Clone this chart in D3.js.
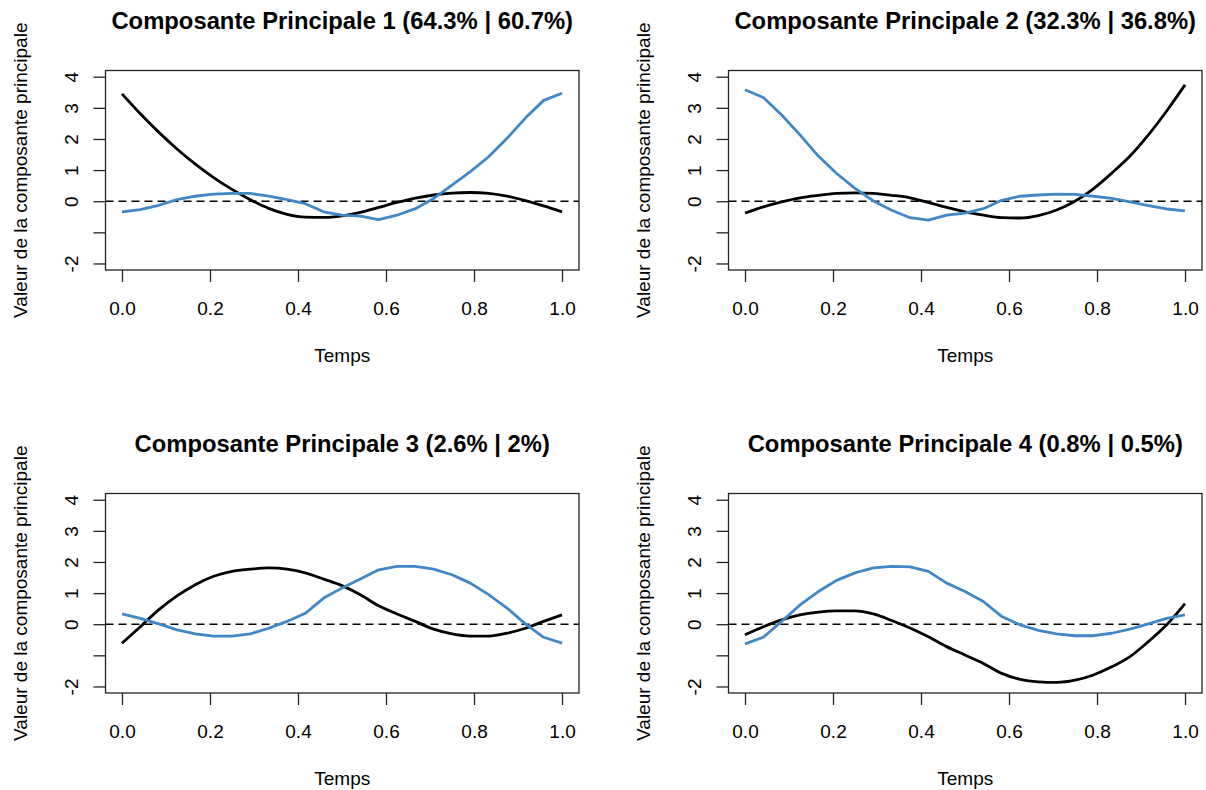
<!DOCTYPE html>
<html>
<head>
<meta charset="utf-8">
<script src="https://cdn.jsdelivr.net/npm/d3@7"></script>
<style>
  body { margin: 0; background: #fff; }
  svg text { font-family: "Liberation Sans", Arial, Helvetica, sans-serif; fill: #000; }
</style>
</head>
<body>
<div id="chart"></div>
<script>

// temps (25 points)
var temps = [0, 0.0417, 0.0833, 0.125, 0.1667, 0.2083, 0.25, 0.2917, 0.3333, 0.375, 0.4167, 0.4583, 0.5,
             0.5417, 0.5833, 0.625, 0.6667, 0.7083, 0.75, 0.7917, 0.8333, 0.875, 0.9167, 0.9583, 1]

var titres = [
  "Composante Principale 1 (64.3% | 60.7%)",
  "Composante Principale 2 (32.3% | 36.8%)",
  "Composante Principale 3 (2.6% | 2%)",
  "Composante Principale 4 (0.8% | 0.5%)"
]

// courbes noires
var cp1Noir = [3.45, 2.81, 2.22, 1.68, 1.19, 0.76, 0.38, 0.05, -0.23, -0.42, -0.51, -0.52, -0.47,
               -0.36, -0.2, -0.04, 0.1, 0.2, 0.26, 0.28, 0.25, 0.16, 0.02, -0.15, -0.34]
var cp2Noir = [-0.38, -0.18, -0.02, 0.11, 0.19, 0.25, 0.27, 0.25, 0.19, 0.11, -0.04, -0.2, -0.34,
               -0.45, -0.53, -0.54, -0.46, -0.28, 0.0, 0.4, 0.9, 1.45, 2.13, 2.9, 3.74]
var cp3Noir = [-0.61, -0.08, 0.46, 0.91, 1.27, 1.54, 1.7, 1.77, 1.81, 1.77, 1.65, 1.45, 1.24,
               0.95, 0.59, 0.33, 0.09, -0.16, -0.31, -0.38, -0.38, -0.29, -0.13, 0.09, 0.3]
var cp4Noir = [-0.34, -0.08, 0.14, 0.3, 0.39, 0.43, 0.43, 0.33, 0.12, -0.12, -0.4, -0.72, -0.99,
               -1.26, -1.58, -1.77, -1.85, -1.87, -1.8, -1.63, -1.37, -1.04, -0.56, -0.02, 0.66]

// courbes bleues
var cp1Bleu = [-0.34, -0.27, -0.13, 0.05, 0.16, 0.23, 0.25, 0.25, 0.16, 0.05, -0.08, -0.34, -0.45,
               -0.48, -0.59, -0.45, -0.24, 0.09, 0.52, 0.95, 1.43, 2.02, 2.67, 3.24, 3.47]
var cp2Bleu = [3.58, 3.33, 2.77, 2.13, 1.45, 0.89, 0.41, 0.01, -0.29, -0.53, -0.61, -0.45, -0.38,
               -0.24, 0.03, 0.16, 0.2, 0.23, 0.22, 0.16, 0.09, -0.02, -0.14, -0.25, -0.31]
var cp3Bleu = [0.33, 0.19, 0.01, -0.18, -0.31, -0.38, -0.38, -0.31, -0.13, 0.09, 0.35, 0.84, 1.16,
               1.45, 1.75, 1.86, 1.86, 1.77, 1.59, 1.32, 0.95, 0.52, 0.01, -0.42, -0.61]
var cp4Bleu = [-0.63, -0.42, 0.09, 0.62, 1.05, 1.41, 1.65, 1.81, 1.86, 1.84, 1.7, 1.32, 1.05,
               0.73, 0.25, -0.02, -0.2, -0.31, -0.37, -0.37, -0.29, -0.16, 0.01, 0.19, 0.3]

var noirs = [cp1Noir, cp2Noir, cp3Noir, cp4Noir]
var bleus = [cp1Bleu, cp2Bleu, cp3Bleu, cp4Bleu]

var xTicks = [0, 0.2, 0.4, 0.6, 0.8, 1.0]
var xTickLabels = ["0.0", "0.2", "0.4", "0.6", "0.8", "1.0"]
var yTicks = [-2, -1, 0, 1, 2, 3, 4]
var yTickLabels = ["-2", "", "0", "1", "2", "3", "4"]

var width = 1206, height = 790

var svg = d3.select("#chart").append("svg")
    .attr("width", width)
    .attr("height", height)

// plot regions (R style mfrow 2x2)
var boxW = 473.5, boxH = 199.5
var lefts = [105.5, 728.5], tops = [70.5, 493.5]

var xScale = d3.scaleLinear().domain([-0.0375, 1.0386]).range([0, boxW])
var yScale = d3.scaleLinear().domain([-2.21, 4.2]).range([boxH, 0])

var lineBleu = d3.line()
    .x(function(d, i) { return xScale(temps[i]) })
    .y(function(d) { return yScale(d) })

// the black curves are smooth in the original
var lineNoir = d3.line()
    .x(function(d, i) { return xScale(temps[i]) })
    .y(function(d) { return yScale(d) })
    .curve(d3.curveMonotoneX)

titres.forEach(function(titre, k) {

    var left = lefts[k % 2], top = tops[Math.floor(k / 2)]

    var g = svg.append("g").attr("transform", "translate(" + left + "," + top + ")")

    // title
    g.append("text")
        .attr("x", boxW / 2)
        .attr("y", -41.5)
        .attr("text-anchor", "middle")
        .style("font-size", "23.8px")
        .style("font-weight", "bold")
        .text(titre)

    // zero line
    g.append("line")
        .attr("x1", 0).attr("x2", boxW)
        .attr("y1", yScale(0)).attr("y2", yScale(0))
        .attr("stroke", "#000")
        .attr("stroke-width", 1.6)
        .attr("stroke-dasharray", "8,5")

    g.append("path")
        .datum(noirs[k])
        .attr("fill", "none")
        .attr("stroke", "#000")
        .attr("stroke-width", 2.8)
        .attr("stroke-linejoin", "round")
        .attr("d", lineNoir)

    g.append("path")
        .datum(bleus[k])
        .attr("fill", "none")
        .attr("stroke", "#4187c6")
        .attr("stroke-width", 2.8)
        .attr("stroke-linejoin", "round")
        .attr("d", lineBleu)

    // box
    g.append("rect")
        .attr("width", boxW)
        .attr("height", boxH)
        .attr("fill", "none")
        .attr("stroke", "#222")
        .attr("stroke-width", 1.3)

    // x axis
    var xa = g.append("g")
        .attr("transform", "translate(0," + boxH + ")")
        .call(d3.axisBottom(xScale).tickValues(xTicks).tickSize(12).tickPadding(0)
            .tickFormat(function(d, i) { return xTickLabels[i] }))
    xa.select(".domain").remove()
    xa.selectAll("line").attr("stroke", "#222").attr("stroke-width", 1.3)
    xa.selectAll("text").attr("y", 45).attr("dy", null).style("font-size", "19px").attr("fill", "#111")

    // y axis
    var ya = g.append("g")
        .call(d3.axisLeft(yScale).tickValues(yTicks).tickSize(12)
            .tickFormat(function(d, i) { return yTickLabels[i] }))
    ya.select(".domain").remove()
    ya.selectAll("line").attr("stroke", "#222").attr("stroke-width", 1.3)
    ya.selectAll("text")
        .attr("x", null).attr("dy", null)
        .attr("text-anchor", "middle")
        .attr("transform", "translate(-27.5,0) rotate(-90)")
        .style("font-size", "19px").attr("fill", "#111")

    // axis titles
    g.append("text")
        .attr("x", boxW / 2)
        .attr("y", boxH + 92)
        .attr("text-anchor", "middle")
        .style("font-size", "19px")
        .text("Temps")

    g.append("text")
        .attr("transform", "translate(-79," + boxH / 2 + ") rotate(-90)")
        .attr("text-anchor", "middle")
        .style("font-size", "19px")
        .text("Valeur de la composante principale")

})

</script>
</body>
</html>
